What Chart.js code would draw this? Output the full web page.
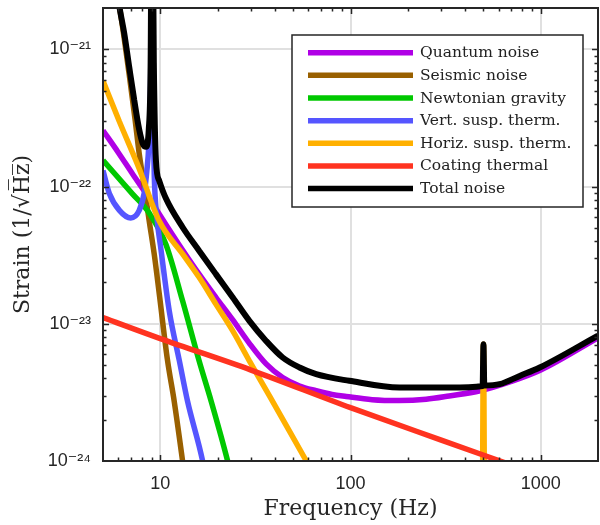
<!DOCTYPE html>
<html>
<head>
<meta charset="utf-8">
<script src="https://cdn.jsdelivr.net/npm/chart.js@4.4.1/dist/chart.umd.min.js"></script>
<style>
  html, body { margin: 0; padding: 0; background: #fff; }
  canvas { display: block; }
</style>
</head>
<body>
<canvas id="noise" width="600" height="525"></canvas>
<script>
// Noise budget (frequency in Hz, strain in 1/sqrt(Hz))
const seriesLabels = ['Quantum noise', 'Seismic noise', 'Newtonian gravity', 'Vert. susp. therm.',
    'Horiz. susp. therm.', 'Coating thermal', 'Total noise'];

const quantumFreq = [5, 6, 7.14, 8.75, 10.7, 13.1, 16, 19.6, 24, 29.4, 36, 44, 54, 66, 80, 95, 130, 180, 250,
    330, 480, 700, 1000, 2000];
const quantumStrain = [2.56e-22, 1.78e-22, 1.24e-22, 8.2e-23, 5.3e-23, 3.45e-23, 2.3e-23, 1.56e-23, 1.07e-23,
    7.2e-24, 5.1e-24, 4.06e-24, 3.52e-24, 3.25e-24, 3.05e-24, 2.95e-24, 2.8e-24, 2.76e-24, 2.82e-24,
    2.98e-24, 3.25e-24, 3.8e-24, 4.6e-24, 7.9e-24];

const seismicFreq = [5.5, 6.08, 6.87, 7.39, 7.75, 8.24, 8.75, 9.3, 9.88, 10.9, 11.85, 13.1, 14];
const seismicStrain = [4e-21, 2.1e-21, 6.5e-22, 3.0e-22, 1.74e-22, 1.0e-22, 5.6e-23, 3.2e-23, 1.65e-23,
    5.5e-24, 2.7e-24, 1e-24, 5e-25];

const newtonFreq = [5, 7.14, 8.75, 10.7, 13.1, 16, 18.5, 22.6, 24];
const newtonStrain = [1.55e-22, 8.85e-23, 6.4e-23, 3.8e-23, 1.47e-23, 5.37e-24, 2.74e-24, 1e-24, 7e-25];

const vertFreq = [5, 5.4, 6.1, 7.0, 7.75, 8.24, 8.5, 8.7, 8.9, 9.0, 9.1, 9.3, 9.6, 10.08, 11.15, 12.6, 13.9,
    16.7, 17.5];
const vertStrain = [1.31e-22, 8.9e-23, 6.7e-23, 5.9e-23, 6.7e-23, 9e-23, 1.3e-22, 2e-22, 6e-22, 3e-21,
    6e-22, 1.2e-22, 6e-23, 3.5e-23, 1.24e-23, 5.37e-24, 2.74e-24, 1e-24, 7e-25];

const horizFreq = [5, 6.08, 7.75, 9.88, 13.1, 16, 19.6, 24, 29.4, 37.5, 58.6, 70, 490, 500, 510, 2000];
const horizStrain = [5.9e-22, 3.0e-22, 1.35e-22, 5.6e-23, 3.23e-23, 2.18e-23, 1.39e-23, 8.9e-24, 5.37e-24,
    2.98e-24, 1e-24, 6.5e-25, 1e-25, 7.1e-24, 1e-25, 1e-25];

const coatingFreq = [5, 10, 30, 100, 300, 650];
const coatingStrain = [1.11e-23, 7.8e-24, 4.6e-24, 2.45e-24, 1.42e-24, 9.7e-25];

const totalFreq = [5.6, 6.08, 6.47, 6.87, 7.3, 7.75, 8.1, 8.41, 8.7, 8.9, 9.05, 9.25, 9.49, 9.88, 10.7, 13.1,
    16, 19.6, 24, 29.4, 36, 44, 54, 66, 98.6, 181, 332, 495, 500, 505, 608, 775, 988, 2000];
const totalStrain = [5e-21, 2.1e-21, 1.3e-21, 7.4e-22, 4.25e-22, 2.6e-22, 2.05e-22, 1.95e-22, 2.6e-22, 8e-22,
    3e-20, 8e-22, 1.55e-22, 1.1e-22, 8.2e-23, 5.05e-23, 3.41e-23, 2.3e-23, 1.56e-23, 1.05e-23, 7.5e-24,
    5.68e-24, 4.8e-24, 4.29e-24, 3.84e-24, 3.43e-24, 3.43e-24, 3.52e-24, 7.1e-24, 3.55e-24, 3.63e-24,
    4.17e-24, 4.8e-24, 8.2e-24];

const seriesFreq = [quantumFreq, seismicFreq, newtonFreq, vertFreq, horizFreq, coatingFreq, totalFreq];
const seriesStrain = [quantumStrain, seismicStrain, newtonStrain, vertStrain, horizStrain, coatingStrain, totalStrain];
const seriesColors = ['#b000e6', '#996000', '#00c800', '#5555ff', '#ffb000', '#ff3320', '#000000'];

const axisColor = '#262626';
const sup = { '-': '⁻', '0': '⁰', '1': '¹', '2': '²', '3': '³', '4': '⁴', '5': '⁵', '6': '⁶', '7': '⁷', '8': '⁸', '9': '⁹' };

function isDecade(v) {
    const l = Math.log10(v);
    return Math.abs(l - Math.round(l)) < 1e-6;
}

// box, inward ticks on all four sides, and the legend inside the axes
const framePlugin = {
    id: 'frame',
    afterDatasetsDraw(chart) {
        const { ctx, chartArea: a, scales: { x, y } } = chart;
        ctx.save();
        ctx.strokeStyle = axisColor;
        ctx.lineWidth = 1.5;
        ctx.beginPath();
        for (let e = -1; e <= 4; e++) {
            for (let m = 1; m <= 9; m++) {
                const v = m * Math.pow(10, e);
                if (v <= x.min || v >= x.max) continue;
                const px = Math.round(x.getPixelForValue(v)) + 0.5;
                const len = m === 1 ? 6 : 3.5;
                ctx.moveTo(px, a.bottom); ctx.lineTo(px, a.bottom - len);
                ctx.moveTo(px, a.top); ctx.lineTo(px, a.top + len);
            }
        }
        for (let e = -25; e <= -20; e++) {
            for (let m = 1; m <= 9; m++) {
                const v = m * Math.pow(10, e);
                if (v <= y.min * 1.0001 || v >= y.max * 0.9999) continue;
                const py = Math.round(y.getPixelForValue(v)) + 0.5;
                const len = m === 1 ? 6 : 3.5;
                ctx.moveTo(a.left, py); ctx.lineTo(a.left + len, py);
                ctx.moveTo(a.right, py); ctx.lineTo(a.right - len, py);
            }
        }
        ctx.stroke();
        ctx.lineWidth = 2;
        ctx.strokeRect(a.left, a.top, a.right - a.left, a.bottom - a.top);

        // legend
        const bx = 292, by = 35, bw = 291, bh = 172;
        ctx.fillStyle = '#ffffff';
        ctx.fillRect(bx, by, bw, bh);
        ctx.lineWidth = 1.5;
        ctx.strokeStyle = axisColor;
        ctx.strokeRect(bx, by, bw, bh);
        ctx.font = '15.5px "DejaVu Serif", serif';
        ctx.textBaseline = 'middle';
        chart.data.datasets.forEach((ds, i) => {
            const ry = 52.7 + i * 22.65;
            ctx.strokeStyle = ds.borderColor;
            ctx.lineWidth = 5.5;
            ctx.beginPath();
            ctx.moveTo(308, ry); ctx.lineTo(413, ry);
            ctx.stroke();
            ctx.fillStyle = '#222222';
            ctx.fillText(ds.label, 420, ry + 0.5);
        });
        ctx.restore();
    }
};

const datasets = seriesLabels.map((label, i) => ({
    label: label,
    data: seriesFreq[i].map((f, j) => ({ x: f, y: seriesStrain[i][j] })),
    borderColor: seriesColors[i],
    backgroundColor: seriesColors[i],
    borderWidth: i === 6 ? 6 : 5.5,
    order: seriesLabels.length - 1 - i,
    pointRadius: 0,
    fill: false
}));

new Chart(document.getElementById('noise'), {
    type: 'line',
    data: { datasets: datasets },
    options: {
        responsive: false,
        animation: false,
        layout: { padding: { top: 8, right: 2 } },
        elements: {
            line: { cubicInterpolationMode: 'monotone', borderCapStyle: 'butt', borderJoinStyle: 'bevel' }
        },
        plugins: { legend: { display: false }, tooltip: { enabled: false } },
        scales: {
            x: {
                type: 'logarithmic',
                min: 5,
                max: 2000,
                afterFit: s => { s.height = 64; s.paddingLeft = 0; s.paddingRight = 0; },
                border: { display: false },
                grid: {
                    drawTicks: false,
                    lineWidth: 2,
                    color: c => (c.tick && isDecade(c.tick.value)) ? '#e0e0e0' : 'rgba(0,0,0,0)'
                },
                ticks: {
                    autoSkip: false,
                    maxRotation: 0,
                    padding: 12,
                    color: axisColor,
                    font: { family: '"Liberation Sans", Arial, sans-serif', size: 18 },
                    callback: v => isDecade(v) ? String(Math.round(v)) : ''
                },
                title: {
                    display: true,
                    text: 'Frequency (Hz)',
                    color: axisColor,
                    padding: { top: 0, bottom: 3 },
                    font: { family: '"DejaVu Serif", serif', size: 22, weight: 'normal' }
                }
            },
            y: {
                type: 'logarithmic',
                min: 1e-24,
                max: 2e-21,
                afterFit: s => { s.width = 103; s.paddingTop = 0; s.paddingBottom = 0; },
                border: { display: false },
                grid: {
                    drawTicks: false,
                    lineWidth: 2,
                    color: c => (c.tick && isDecade(c.tick.value)) ? '#e0e0e0' : 'rgba(0,0,0,0)'
                },
                ticks: {
                    autoSkip: false,
                    padding: 12,
                    color: axisColor,
                    font: { family: '"Liberation Sans", "DejaVu Sans", sans-serif', size: 18 },
                    callback: v => {
                        if (!isDecade(v)) return '';
                        const e = String(Math.round(Math.log10(v)));
                        return '10' + e.split('').map(ch => sup[ch]).join('');
                    }
                },
                title: {
                    display: true,
                    text: 'Strain (1/√H\u0305z\u0305)',
                    color: axisColor,
                    padding: { top: 10, bottom: 0 },
                    font: { family: '"DejaVu Serif", serif', size: 22, weight: 'normal' }
                }
            }
        }
    },
    plugins: [framePlugin]
});
</script>
</body>
</html>
